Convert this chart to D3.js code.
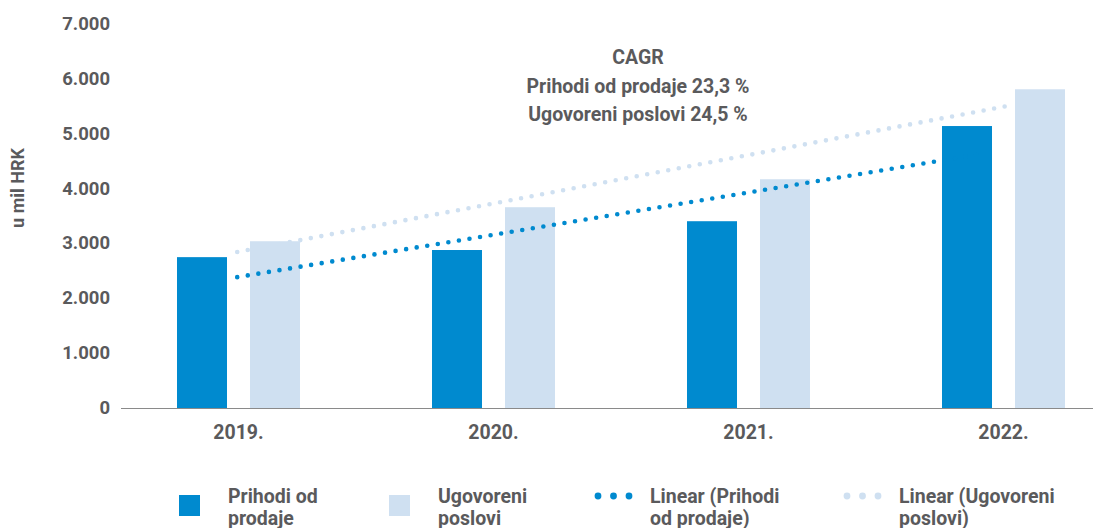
<!DOCTYPE html>
<html>
<head>
<meta charset="utf-8">
<script src="https://cdn.jsdelivr.net/npm/d3@7"></script>
<style>
  body { margin: 0; background: #fff; }
  text { font-family: Roboto, "Liberation Sans", sans-serif; font-weight: 700; fill: #5a5a5c; }
</style>
</head>
<body>
<script>
// chart data
var years = ["2019.", "2020.", "2021.", "2022."];
var prihodi = [2750, 2880, 3405, 5140];
var ugovoreni = [3040, 3660, 4170, 5810];
var seriesNames = ["Prihodi od prodaje", "Ugovoreni poslovi"];
var yTicks = [0, 1000, 2000, 3000, 4000, 5000, 6000, 7000];
var cagrLines = ["CAGR", "Prihodi od prodaje 23,3 %", "Ugovoreni poslovi 24,5 %"];

var darkBlue = "#008acf",
  lightBlue = "#cfe0f1";

var width = 1093,
  height = 528;

var svg = d3.select("body").append("svg")
  .attr("width", width)
  .attr("height", height);

// scales
var x = d3.scaleBand().domain(years).range([111, 1131]);
var x1 = d3.scaleBand().domain(seriesNames).range([0, x.bandwidth()])
  .paddingInner(0.315).paddingOuter(0.904);
var y = d3.scaleLinear().domain([0, 7000]).range([408, 24]);

// category index -> pixel (for the trend lines)
var xi = d3.scaleLinear().domain([1, 4])
  .range([x(years[0]) + x.bandwidth() / 2, x(years[3]) + x.bandwidth() / 2]);

// y axis labels (no line)
var yAxis = svg.append("g")
  .attr("transform", "translate(110,0)")
  .call(d3.axisLeft(y).tickValues(yTicks).tickSize(0).tickPadding(0)
    .tickFormat(function(d) { return d3.format(",")(d).replace(/,/g, "."); }));
yAxis.select(".domain").remove();
yAxis.selectAll("text")
  .attr("dy", "0.3em")
  .style("font-size", "18.5px")
  .style("font-family", null);

svg.append("text")
  .attr("transform", "translate(24,188) rotate(-90)")
  .attr("text-anchor", "middle")
  .style("font-size", "18px")
  .text("u mil HRK");

// bars
var groups = svg.selectAll(".year")
  .data(years)
  .enter().append("g")
  .attr("class", "year")
  .attr("transform", function(d) { return "translate(" + x(d) + ",0)"; });

groups.selectAll("rect")
  .data(function(d, i) {
    return [
      { key: seriesNames[0], value: prihodi[i], color: darkBlue },
      { key: seriesNames[1], value: ugovoreni[i], color: lightBlue }
    ];
  })
  .enter().append("rect")
  .attr("x", function(d) { return x1(d.key); })
  .attr("width", x1.bandwidth())
  .attr("y", function(d) { return y(d.value); })
  .attr("height", function(d) { return y(0) - y(d.value); })
  .attr("fill", function(d) { return d.color; });

// x axis
var xAxis = svg.append("g")
  .attr("transform", "translate(0," + y(0) + ")")
  .call(d3.axisBottom(x).tickSize(0).tickPadding(17));
xAxis.select(".domain")
  .attr("d", "M121,0.5H" + width)
  .attr("stroke", "#8a8a8a");
xAxis.selectAll("text")
  .style("font-size", "19.5px")
  .style("font-family", null);

// linear trend lines (least squares over category index 1..4)
function fit(vals) {
  var xs = vals.map(function(d, i) { return i + 1; });
  var mx = d3.mean(xs), my = d3.mean(vals);
  var num = d3.sum(xs, function(xv, i) { return (xv - mx) * (vals[i] - my); });
  var den = d3.sum(xs, function(xv) { return (xv - mx) * (xv - mx); });
  var b = num / den;
  return function(t) { return my + b * (t - mx); };
}

var trendLine = d3.line()
  .x(function(d) { return xi(d.t); })
  .y(function(d) { return y(d.v); });

// [values, colour, end index] - the dark one ends under its own bar
[[ugovoreni, lightBlue, 4.04], [prihodi, darkBlue, 3.9]].forEach(function(s) {
  var f = fit(s[0]);
  var pts = [0.995, s[2]].map(function(t) { return { t: t, v: f(t) }; });
  svg.append("path")
    .datum(pts)
    .attr("d", trendLine)
    .attr("fill", "none")
    .attr("stroke", s[1])
    .attr("stroke-width", 4.6)
    .attr("stroke-linecap", "round")
    .attr("stroke-dasharray", "0,10.7");
});

// CAGR annotation
svg.selectAll(".cagr")
  .data(cagrLines)
  .enter().append("text")
  .attr("class", "cagr")
  .attr("x", 638)
  .attr("y", function(d, i) { return 64 + i * 28.7; })
  .attr("text-anchor", "middle")
  .style("font-size", "19.5px")
  .text(function(d) { return d; });

// legend
var legendItems = [
  { type: "rect", color: darkBlue, x: 179, lines: ["Prihodi od", "prodaje"] },
  { type: "rect", color: lightBlue, x: 389, lines: ["Ugovoreni", "poslovi"] },
  { type: "dots", color: darkBlue, x: 598, lines: ["Linear (Prihodi", "od prodaje)"] },
  { type: "dots", color: lightBlue, x: 847, lines: ["Linear (Ugovoreni", "poslovi)"] }
];

var legend = svg.selectAll(".legend")
  .data(legendItems)
  .enter().append("g")
  .attr("class", "legend")
  .attr("transform", function(d) { return "translate(" + d.x + ",0)"; });

legend.filter(function(d) { return d.type === "rect"; })
  .append("rect")
  .attr("x", 0)
  .attr("y", 495)
  .attr("width", 21)
  .attr("height", 21)
  .attr("fill", function(d) { return d.color; });

legend.filter(function(d) { return d.type === "dots"; })
  .selectAll("circle")
  .data(function(d) { return [0, 1, 2].map(function(k) { return { k: k, color: d.color }; }); })
  .enter().append("circle")
  .attr("cx", function(d) { return d.k * 15.5; })
  .attr("cy", 496)
  .attr("r", 3.4)
  .attr("fill", function(d) { return d.color; });

legend.append("text")
  .attr("x", function(d) { return d.type === "rect" ? 49 : 52; })
  .attr("y", 503)
  .style("font-size", "19.5px")
  .selectAll("tspan")
  .data(function(d) { return d.lines; })
  .enter().append("tspan")
  .attr("x", function(d, i, nodes) { return d3.select(nodes[i].parentNode).attr("x"); })
  .attr("dy", function(d, i) { return i === 0 ? 0 : 21.5; })
  .text(function(d) { return d; });
</script>
</body>
</html>
